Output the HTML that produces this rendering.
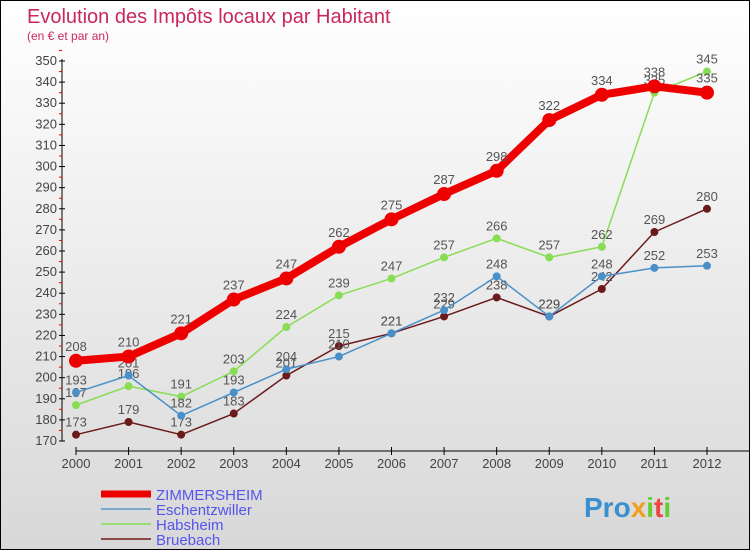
<!DOCTYPE html>
<html><head><meta charset="utf-8"><style>
body{margin:0}
#c{width:748px;height:548px;border:1px solid #000;background:linear-gradient(#fff,#d8d8d8);position:relative;font-family:"Liberation Sans",sans-serif;overflow:hidden}
svg{position:absolute;left:0;top:0}
</style></head><body>
<div id="c">
<svg id="s" width="750" height="550">
<text x="26" y="22" font-size="20" fill="#c8285a">Evolution des Impôts locaux par Habitant</text>
<text x="26" y="39" font-size="12" fill="#c8285a">(en € et par an)</text>
<g><text x="583" y="516" font-size="28" font-weight="bold" fill="#3a8fd0">Pro<tspan fill="#f0a020">x</tspan><tspan fill="#6c3">i</tspan><tspan fill="#e44">t</tspan><tspan fill="#6c3">i</tspan></text></g>
</svg>
</div>
<script>
const years=[2000,2001,2002,2003,2004,2005,2006,2007,2008,2009,2010,2011,2012];
const yTicks=[170,180,190,200,210,220,230,240,250,260,270,280,290,300,310,320,330,340,350];
const zimmersheim=[208,210,221,237,247,262,275,287,298,322,334,338,335];
const eschentzwiller=[193,201,182,193,204,210,221,232,248,229,248,252,253];
const habsheim=[187,196,191,203,224,239,247,257,266,257,262,335,345];
const bruebach=[173,179,173,183,201,215,221,229,238,229,242,269,280];
const s=document.getElementById('s'),NS='http://www.w3.org/2000/svg';
const X=i=>75+i*(706-75)/12, Y=v=>60+(350-v)*380/180;
function mk(t,a,name){const e=document.createElementNS(NS,t);for(const k in a)e.setAttribute(k,a[k]);


s.appendChild(e);return e;}
mk('line',{x1:61,y1:58,x2:61,y2:440,stroke:'#000'},'y-axis');
yTicks.forEach(v=>{mk('line',{x1:58,x2:64,y1:Y(v),y2:Y(v),stroke:'#000'},'y-tick');
mk('line',{x1:58,x2:61,y1:Y(v+5),y2:Y(v+5),stroke:'#e00'},'y-minor-tick');
const t=mk('text',{x:56,y:Y(v)+4,'text-anchor':'end','font-size':13,fill:'#444'},'y-tick-label');t.textContent=v;});
mk('line',{x1:75,y1:450,x2:748,y2:450,stroke:'#000'},'x-axis');
years.forEach((y,i)=>{mk('line',{x1:X(i),x2:X(i),y1:446,y2:454,stroke:'#000'},'x-tick');
const t=mk('text',{x:X(i),y:467,'text-anchor':'middle','font-size':13,fill:'#444'},'x-tick-label');t.textContent=y;});
function series(d,col,w,r,name){
mk('polyline',{points:d.map((v,i)=>X(i)+','+Y(v)).join(' '),fill:'none',stroke:col,'stroke-width':w,'stroke-linejoin':'round'},name+'-line');
d.forEach((v,i)=>{mk('circle',{cx:X(i),cy:Y(v),r:r,fill:col},name+'-point');
const t=mk('text',{x:X(i),y:Y(v)-8-(r>4?2:0),'text-anchor':'middle','font-size':13,fill:'#555'},name+'-value');t.textContent=v;});}
series(bruebach,'#6b1a1a',1.5,4,'bruebach');
series(habsheim,'#88dd55',1.5,4,'habsheim');
series(eschentzwiller,'#4a90c8',1.5,4,'eschentzwiller');
series(zimmersheim,'#ee0000',8,7,'zimmersheim');
const leg=[['ZIMMERSHEIM','#ee0000',7],['Eschentzwiller','#7aa8cc',2],['Habsheim','#99dd77',2],['Bruebach','#8b4a4a',2]];
leg.forEach((l,i)=>{const y=493+i*15;mk('line',{x1:100,x2:150,y1:y,y2:y,stroke:l[1],'stroke-width':l[2]},'legend-swatch');
const t=mk('text',{x:155,y:y+6,'font-size':15,fill:'#5555ee'},'legend-entry');t.textContent=l[0];});
</script>
</body></html>
